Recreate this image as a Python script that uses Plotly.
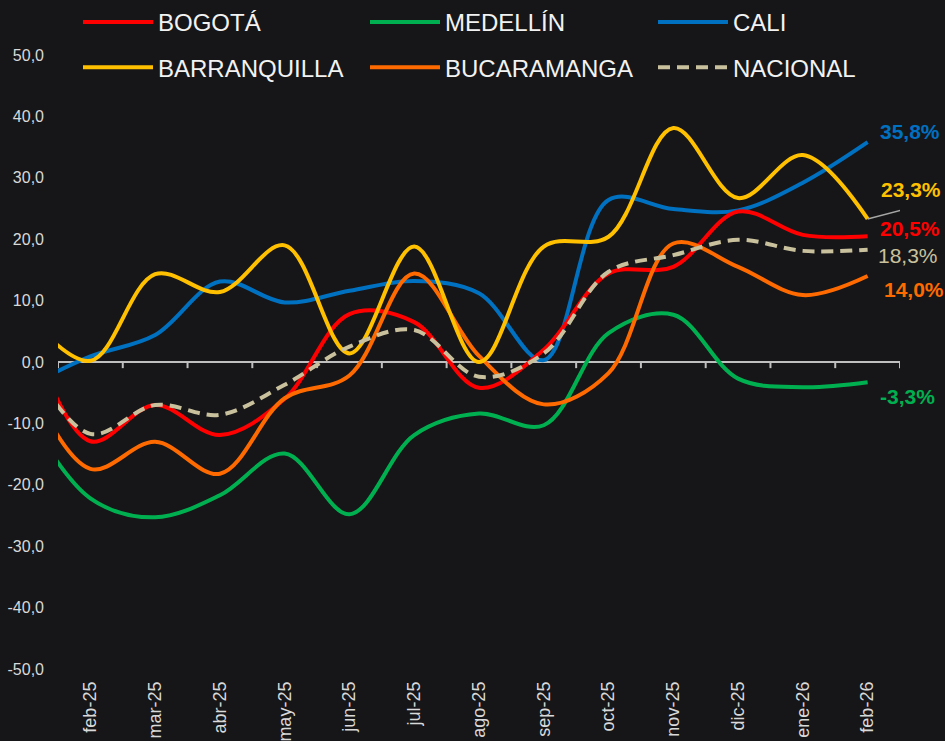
import plotly.graph_objects as go

# Category labels (first hidden point = ene-25, clipped at left edge)
months = ["ene-25", "feb-25", "mar-25", "abr-25", "may-25", "jun-25", "jul-25",
          "ago-25", "sep-25", "oct-25", "nov-25", "dic-25", "ene-26", "feb-26"]
x_idx = list(range(-1, len(months) - 1))
tick_labels = months[1:]
y_ticks = [50, 40, 30, 20, 10, 0, -10, -20, -30, -40, -50]
y_tick_text = ["50,0", "40,0", "30,0", "20,0", "10,0", "0,0",
               "-10,0", "-20,0", "-30,0", "-40,0", "-50,0"]

bogota = [7.0, -12.9, -7.0, -11.9, -6.0, 7.8, 6.5, -4.2, 2.0, 14.4, 15.5, 24.5, 20.7, 20.5]
medellin = [-8.0, -22.2, -25.3, -21.7, -14.9, -24.8, -11.9, -8.4, -10.3, 4.7, 7.7, -2.7, -4.1, -3.3]
cali = [-4.1, 0.9, 4.4, 13.1, 9.7, 11.6, 13.2, 11.2, 0.3, 26.4, 24.9, 24.7, 29.2, 35.8]
barranquilla = [8.0, 0.2, 14.3, 11.4, 19.0, 1.4, 18.8, 0.0, 18.8, 20.4, 38.1, 26.7, 33.7, 23.3]
bucaramanga = [-2.0, -17.4, -13.0, -18.2, -5.9, -2.2, 14.4, 1.0, -6.9, -1.8, 19.3, 15.5, 10.9, 14.0]
nacional = [1.0, -11.7, -7.0, -8.6, -3.7, 2.5, 5.2, -2.4, 1.4, 14.7, 17.4, 19.9, 18.1, 18.3]

BG = "#161618"
series = [
    # name, values, color, dash, legend column, rank, label, label offsets/bold
    ("CALI", cali, "#0070C0", None, "legend3", 1, "35,8%", (10, 11, True)),
    ("MEDELLÍN", medellin, "#00B050", None, "legend2", 1, "-3,3%", (10, -14, True)),
    ("BOGOTÁ", bogota, "#FF0000", None, "legend", 1, "20,5%", (10, 8, True)),
    ("BUCARAMANGA", bucaramanga, "#FF6A00", None, "legend2", 2, "14,0%", (14, -13, True)),
    ("BARRANQUILLA", barranquilla, "#FFC000", None, "legend", 2, "23,3%", (11, 29, True)),
    ("NACIONAL", nacional, "#C9C19D", "12px,7px", "legend3", 2, "18,3%", (8, -6, False)),
]

fig = go.Figure()
annotations = []
for name, vals, color, dash, leg, rank, lab, (xs, ys, bold) in series:
    fig.add_trace(go.Scatter(
        x=x_idx, y=vals, name=name, mode="lines",
        line=dict(color=color, width=4, shape="spline", smoothing=1.0, dash=dash),
        legend=leg, legendrank=rank, legendgroup=name, hoverinfo="skip"))
    annotations.append(dict(
        x=x_idx[-1], y=vals[-1], xref="x", yref="y", text=lab, showarrow=False,
        xanchor="left", yanchor="middle", xshift=xs, yshift=ys,
        font=dict(family="Liberation Sans, Arial", size=21, color=color,
                  weight="bold" if bold else "normal")))

# axis line at zero with tick marks between categories
shapes = []
bounds = [i - 0.5 for i in range(0, len(tick_labels) + 1)]
for b in bounds:
    shapes.append(dict(type="line", xref="x", yref="y", x0=b, x1=b, y0=0, y1=-1.0,
                       line=dict(color="#BFBFBF", width=2), layer="below"))
# leader line for Barranquilla label
shapes.append(dict(type="line", xref="x", yref="y",
                   x0=x_idx[-1], y0=barranquilla[-1],
                   x1=x_idx[-1] + 0.66, y1=barranquilla[-1] + 1.8,
                   line=dict(color="#A6A6A6", width=1.5)))

legend_common = dict(orientation="v", itemwidth=70, bgcolor="rgba(0,0,0,0)",
                     font=dict(family="Liberation Sans, Arial", size=24, color="#F2F2F2"),
                     xref="container", yref="container", xanchor="left", yanchor="top",
                     traceorder="grouped", tracegroupgap=11, itemclick=False,
                     y=1 + 2 / 741)

fig.update_layout(
    width=945, height=741,
    paper_bgcolor=BG, plot_bgcolor=BG,
    margin=dict(l=58, r=45, t=55, b=72, autoexpand=False),
    showlegend=True,
    legend=dict(**legend_common, x=78 / 945),
    legend2=dict(**legend_common, x=365 / 945),
    legend3=dict(**legend_common, x=653 / 945),
    xaxis=dict(range=[-0.5, 12.5], tickmode="array", tickvals=list(range(len(tick_labels))),
               ticktext=tick_labels, tickangle=-90, showgrid=False, zeroline=False,
               showline=False, ticks="", ticklabelstandoff=8,
               tickfont=dict(family="Liberation Sans, Arial", size=18, color="#D9D9D9")),
    yaxis=dict(range=[-50, 50], tickmode="array", tickvals=y_ticks, ticktext=y_tick_text,
               showgrid=False, zeroline=True, zerolinecolor="#BFBFBF", zerolinewidth=2,
               showline=False, ticks="", ticklabelstandoff=13,
               tickfont=dict(family="Liberation Sans, Arial", size=16, color="#D9D9D9")),
    shapes=shapes,
    annotations=annotations,
)

fig.write_html("out.html", config={"displayModeBar": False},
               post_script="document.body.style.margin='0';document.body.style.overflow='hidden';")
